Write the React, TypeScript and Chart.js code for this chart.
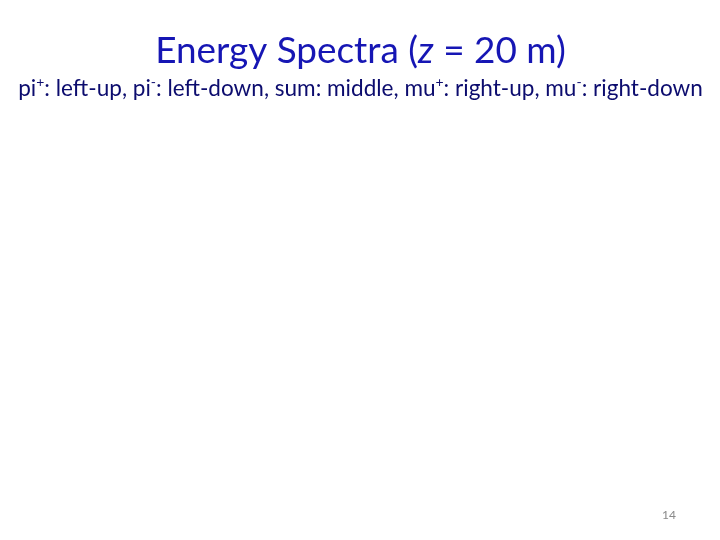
import { useEffect, useRef } from 'react';
import { Chart, registerables } from 'chart.js';

Chart.register(...registerables);

// the slide's plots are missing: only the heading text is left, so no marks are drawn
const categories: string[] = [];
const values: number[] = [];

type Run = { text: string; italic?: boolean; sup?: boolean };

const titleRuns: Run[] = [
  { text: 'Energy Spectra (' },
  { text: 'z', italic: true },
  { text: ' = 20 m)' },
];

const subtitleRuns: Run[] = [
  { text: 'pi' },
  { text: '+', sup: true },
  { text: ': left-up, pi' },
  { text: '-', sup: true },
  { text: ': left-down, sum: middle, mu' },
  { text: '+', sup: true },
  { text: ': right-up, mu' },
  { text: '-', sup: true },
  { text: ': right-down' },
];

const pageNumber = '14';

const FAMILY = 'Lato, "Open Sans", sans-serif';

function runFont(run: Run, size: number) {
  const s = run.sup ? size * 0.62 : size;
  return `${run.italic ? 'italic ' : ''}${s}px ${FAMILY}`;
}

function runsWidth(ctx: CanvasRenderingContext2D, runs: Run[], size: number) {
  let w = 0;
  for (const r of runs) {
    ctx.font = runFont(r, size);
    w += ctx.measureText(r.text).width;
  }
  return w;
}

// draws the runs centred on cx, sized so the line is about `width` wide
function drawRuns(ctx: CanvasRenderingContext2D, runs: Run[], cx: number, baseline: number, size: number, width: number, color: string) {
  const fit = size * width / runsWidth(ctx, runs, size);
  let x = cx - runsWidth(ctx, runs, fit) / 2;
  ctx.fillStyle = color;
  ctx.textBaseline = 'alphabetic';
  ctx.textAlign = 'left';
  for (const r of runs) {
    ctx.font = runFont(r, fit);
    ctx.fillText(r.text, x, r.sup ? baseline - fit * 0.38 : baseline);
    x += ctx.measureText(r.text).width;
  }
}

const slideText = {
  id: 'slideText',
  afterDraw(chart: Chart) {
    const ctx = chart.ctx;
    ctx.save();
    drawRuns(ctx, titleRuns, 360.5, 63, 32, 411, '#1616b4');
    drawRuns(ctx, subtitleRuns, 360.5, 96, 20, 685, '#0c0c6e');
    ctx.font = `12px ${FAMILY}`;
    ctx.fillStyle = '#8a8a8a';
    ctx.textAlign = 'right';
    ctx.fillText(pageNumber, 676, 519);
    ctx.restore();
  },
};

export default function App() {
  const ref = useRef<HTMLCanvasElement>(null);
  const chartRef = useRef<Chart | null>(null);

  useEffect(() => {
    document.body.style.margin = '0';
    if (!ref.current) return;

    chartRef.current?.destroy();
    chartRef.current = new Chart(ref.current, {
      type: 'bar',
      data: {
        labels: categories,
        datasets: [{ data: values, backgroundColor: '#1616b4', borderWidth: 0 }],
      },
      options: {
        responsive: false, animation: false,
        plugins: { legend: { display: false }, tooltip: { enabled: false } },
        scales: { x: { display: false }, y: { display: false } },
      },
      plugins: [slideText],
    });
    return () => { chartRef.current?.destroy(); };
  }, []);

  return (
    <div style={{ width: 720, height: 540, background: '#fff' }}>
      <canvas ref={ref} width={720} height={540} style={{ display: 'block' }} />
    </div>
  );
}
